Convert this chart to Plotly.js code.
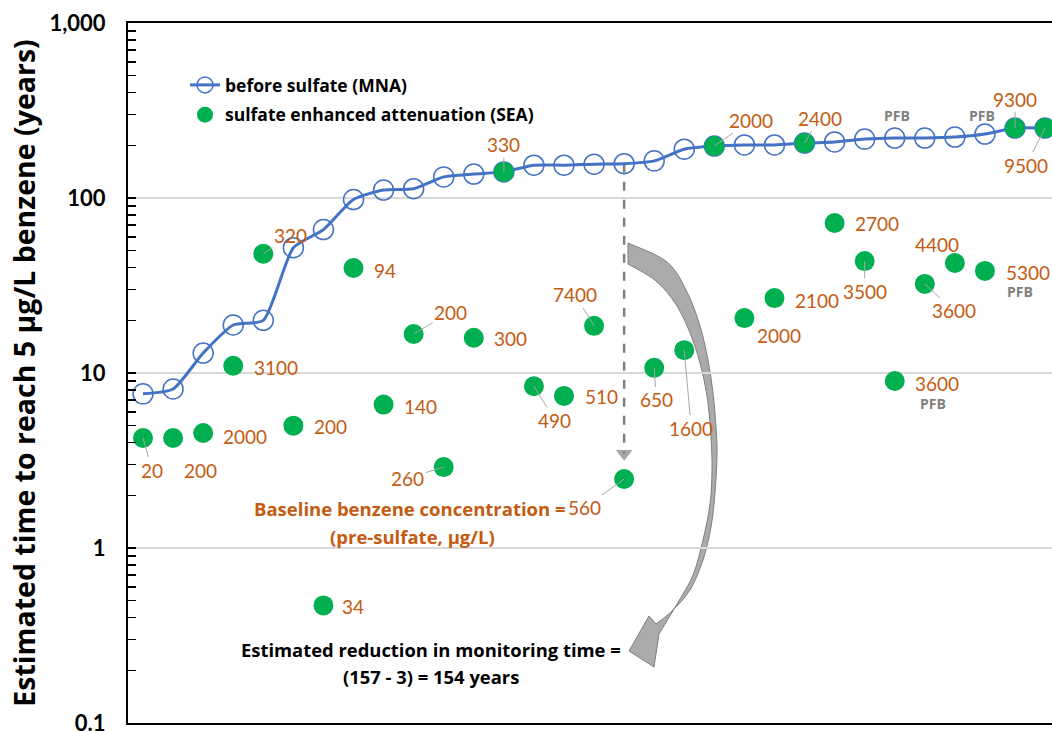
<!DOCTYPE html>
<html><head><meta charset="utf-8">
<script src="https://cdn.plot.ly/plotly-3.0.1.min.js"></script>
<style>html,body{margin:0;padding:0;background:#fff}</style>
</head><body><div id="chart" style="width:1052px;height:732px"></div>
<script>
// ---- data ----
const sites = [0,1,2,3,4,5,6,7,8,9,10,11,12,13,14,15,16,17,18,19,20,21,22,23,24,25,26,27,28,29,30];
const mnaYears = [7.6,8.1,13,18.8,20,52,66,98,111,113,132,137,141,154,154,156,157,163,190,198,201,201,206,209,217,220,220,223,232,251,251];
const seaYears = [4.25,4.25,4.54,11,48,5.0,0.47,39.8,6.6,16.7,2.9,15.9,141,8.4,7.4,18.6,2.48,10.7,13.5,198,20.6,26.8,206,72,43.6,9.0,32.3,42.5,38.3,251,251];
const baselineConc = ["20","200","2000","3100","320","200","34","94","140","200","260","300","330","490","510","7400","560","650","1600","2000","2000","2100","2400","2700","3500","3600","3600","4400","5300","9300","9500"];
const pfbSites = [25, 28];
const yTickVals = [0.1, 1, 10, 100, 1000];
const yTickText = ["0.1", "1", "10", "100", "1,000"];
const highlightSite = 16;
const reductionText = ["Estimated reduction in monitoring time =", "(157 - 3) = 154 years"];

// ---- label placement (pixel offsets of label centre from its point; leader flag) ----
const labelOffsets = [[9,32,1],[27,32,1],[42,3,0],[43,2,0],[27,-18,1],[37,1,0],[30,1,0],[31,2,0],[37,2,0],[37,-22,1],
 [-36,11,1],[37,1,0],[0,-27,1],[21,34,1],[38,1,0],[-19,-31,1],[-40,29,1],[2,32,1],[7,78,1],[37,-26,1],
 [35,17,0],[43,2,0],[15,-25,1],[42,1,0],[0,30,1],[42,2,0],[29,27,1],[-18,-19,0],[43,2,0],[0,-29,1],[-19,37,1]];
const pfbTopOffsets = {25:[2,-23], 28:[-3,-19]};
const pfbBottomOffsets = {25:[38,22], 28:[35,21]};

const FONT = 'Lato, "Open Sans", sans-serif';
const BFONT = '"Open Sans", Lato, sans-serif';
const ORANGE = '#C55A11';
const BLUE = '#4472C4';
const GREEN = '#00B050';

// plot geometry helpers (for decorative shapes in paper coordinates)
const L = 128, T = 23, W = 924, H = 700;
const px = v => (v - L) / W;
const py = v => (T + H - v) / H;
const P = p => px(p[0]).toFixed(5) + ',' + py(p[1]).toFixed(5);

const traces = [
  {
    x: [sites[highlightSite], sites[highlightSite]],
    y: [mnaYears[highlightSite], seaYears[highlightSite] * 1.4],
    mode: 'lines+markers', showlegend: false, hoverinfo: 'skip',
    line: {color: '#7F7F7F', width: 2.5, dash: 'dash'},
    marker: {size: [0, 16], symbol: 'triangle-down', color: '#7F7F7F'}
  },
  {
    x: sites, y: mnaYears, name: 'before sulfate (MNA)', mode: 'lines+markers',
    line: {color: BLUE, width: 3, shape: 'spline', smoothing: 0.6},
    marker: {symbol: 'circle-open', size: 20, color: BLUE, line: {width: 1.5, color: BLUE}},
    legendgroup: 'a'
  },
  {
    x: sites, y: seaYears, name: 'sulfate enhanced attenuation (SEA)', mode: 'markers',
    marker: {symbol: 'circle', size: 20, color: GREEN},
    legendgroup: 'b'
  }
];

const annotations = [];
sites.forEach((s, i) => {
  const o = labelOffsets[i];
  annotations.push({
    x: s, y: Math.log10(seaYears[i]), xref: 'x', yref: 'y',
    text: baselineConc[i], showarrow: true, ax: o[0], ay: o[1],
    arrowhead: 0, arrowwidth: 1, standoff: 0,
    arrowcolor: o[2] ? '#A6A6A6' : 'rgba(0,0,0,0)',
    font: {family: FONT, size: 19, color: ORANGE}
  });
});
pfbSites.forEach(i => {
  const a = pfbTopOffsets[i], b = pfbBottomOffsets[i];
  annotations.push({x: sites[i], y: Math.log10(mnaYears[i]), text: 'PFB', showarrow: true, ax: a[0], ay: a[1],
    arrowcolor: 'rgba(0,0,0,0)', font: {family: BFONT, size: 14, color: '#808080', weight: 'bold'}});
  annotations.push({x: sites[i], y: Math.log10(seaYears[i]), text: 'PFB', showarrow: true, ax: b[0], ay: b[1],
    arrowcolor: 'rgba(0,0,0,0)', font: {family: BFONT, size: 14, color: '#808080', weight: 'bold'}});
});
annotations.push({xref: 'paper', yref: 'paper', x: px(568), y: py(508), xanchor: 'right', yanchor: 'middle',
  showarrow: false, text: 'Baseline benzene concentration =', font: {family: BFONT, size: 18.5, color: ORANGE, weight: 'bold'}});
annotations.push({xref: 'paper', yref: 'paper', x: px(412), y: py(536), xanchor: 'center', yanchor: 'middle',
  showarrow: false, text: '(pre-sulfate, µg/L)', font: {family: BFONT, size: 18.5, color: ORANGE, weight: 'bold'}});
annotations.push({xref: 'paper', yref: 'paper', x: px(431), y: py(649), xanchor: 'center', yanchor: 'middle',
  showarrow: false, text: reductionText[0], font: {family: BFONT, size: 18.4, color: '#000', weight: 'bold'}});
annotations.push({xref: 'paper', yref: 'paper', x: px(431), y: py(676), xanchor: 'center', yanchor: 'middle',
  showarrow: false, text: reductionText[1], font: {family: BFONT, size: 18.4, color: '#000', weight: 'bold'}});

// curved block arrow (decoration), pixel outline -> smooth path in paper coords
const outerEdge = [[628,243],[667,262],[687,292],[700,326],[708,360],[713,393],[716,427],[717,455],[715,493],[711,527],[703,560],[690,590],[672,611],[656,624]];
const headPts = [[649,616],[629,651],[654,667],[659,634]];
const innerEdge = [[659,634],[677,604],[693,575],[703,540],[710,504],[712,470],[711,437],[708,403],[702,371],[692,338],[677,306],[656,281],[628,264]];
function smooth(pts) {
  let s = '';
  for (let i = 0; i < pts.length - 1; i++) {
    const p0 = pts[Math.max(i - 1, 0)], p1 = pts[i], p2 = pts[i + 1], p3 = pts[Math.min(i + 2, pts.length - 1)];
    const c1 = [p1[0] + (p2[0] - p0[0]) / 6, p1[1] + (p2[1] - p0[1]) / 6];
    const c2 = [p2[0] - (p3[0] - p1[0]) / 6, p2[1] - (p3[1] - p1[1]) / 6];
    s += ' C' + P(c1) + ' ' + P(c2) + ' ' + P(p2);
  }
  return s;
}
const arrowPath = 'M' + P(outerEdge[0]) + smooth(outerEdge) +
  headPts.map(p => ' L' + P(p)).join('') + smooth(innerEdge) + ' Z';

const minorVals = [];
[0.1, 1, 10, 100].forEach(d => { for (let k = 2; k <= 9; k++) minorVals.push(d * k); });

const layout = {
  width: 1052, height: 732,
  margin: {l: L, r: 0, t: T, b: 732 - T - H, pad: 0},
  paper_bgcolor: '#fff', plot_bgcolor: '#fff',
  font: {family: FONT},
  showlegend: true,
  legend: {x: px(185), y: py(67), xanchor: 'left', yanchor: 'top', bgcolor: 'rgba(0,0,0,0)',
    font: {family: BFONT, size: 17.5, color: '#000', weight: 'bold'}, traceorder: 'grouped', tracegroupgap: 4},
  xaxis: {range: [-0.5, 30.23], showticklabels: false, ticks: '', showgrid: false, zeroline: false,
    showline: true, mirror: true, linecolor: '#000', linewidth: 2},
  yaxis: {type: 'log', range: [-1, 3], tickmode: 'array', tickvals: yTickVals, ticktext: yTickText,
    ticklabeloverflow: 'allow',
    ticks: 'inside', ticklen: 8, tickwidth: 1.5, tickcolor: '#000', ticklabelstandoff: 16,
    minor: {tickmode: 'array', tickvals: minorVals, ticks: 'inside', ticklen: 8, tickwidth: 1.5, tickcolor: '#000', showgrid: false},
    showgrid: true, gridcolor: '#D9D9D9', gridwidth: 1.5, zeroline: false,
    showline: true, linecolor: '#000', linewidth: 2,
    tickfont: {family: FONT, size: 22, color: '#000', weight: 'bold'},
    title: {text: 'Estimated time to reach 5 µg/L benzene (years)', standoff: 5,
      font: {family: BFONT, size: 28.5, color: '#000', weight: 'bold'}}},
  shapes: [{type: 'path', xref: 'paper', yref: 'paper', path: arrowPath, layer: 'between',
    fillcolor: '#ABABAB', line: {color: '#7F7F7F', width: 1}}],
  annotations: annotations
};

Plotly.newPlot('chart', traces, layout, {displayModeBar: false, staticPlot: true});
</script></body></html>
